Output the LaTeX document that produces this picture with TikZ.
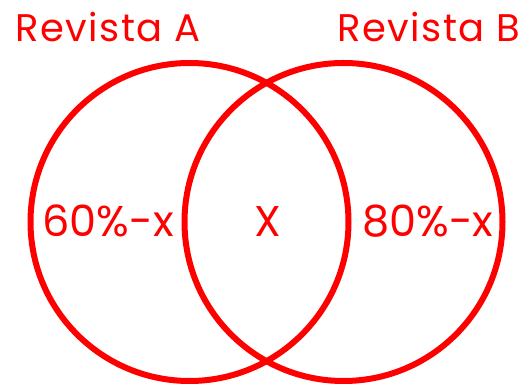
\documentclass[tikz,border=0pt]{standalone}
\usepackage{fontspec}
\setmainfont{Poppins}
\newfontfamily\titlefont[LetterSpace=4]{Poppins}
\definecolor{vred}{RGB}{255,0,0}
\begin{document}
\begin{tikzpicture}[x=1pt,y=-1pt,
  ring/.style={draw=vred,line width=6pt},
  title/.style={text=vred,font=\titlefont\fontsize{38.5}{40}\selectfont,anchor=base west,inner sep=0pt},
  lab/.style={text=vred,font=\fontsize{43}{45}\selectfont,anchor=base,inner sep=0pt}]
\useasboundingbox (0,0) rectangle (528,387);
\node[ring,circle,minimum size=318pt,inner sep=0pt] (A) at (189.5,222) {};
\node[ring,circle,minimum size=318pt,inner sep=0pt] (B) at (343.5,222) {};
\node[title] (tA) at (15,42) {Revista A};
\node[title] (tB) at (337,42) {Revista B};
\node[lab] (lA) at (108,237) {60\%-x};
\node[lab] (lX) at (267.5,237) {X};
\node[lab] (lB) at (428,237) {80\%-x};
\end{tikzpicture}
\end{document}
